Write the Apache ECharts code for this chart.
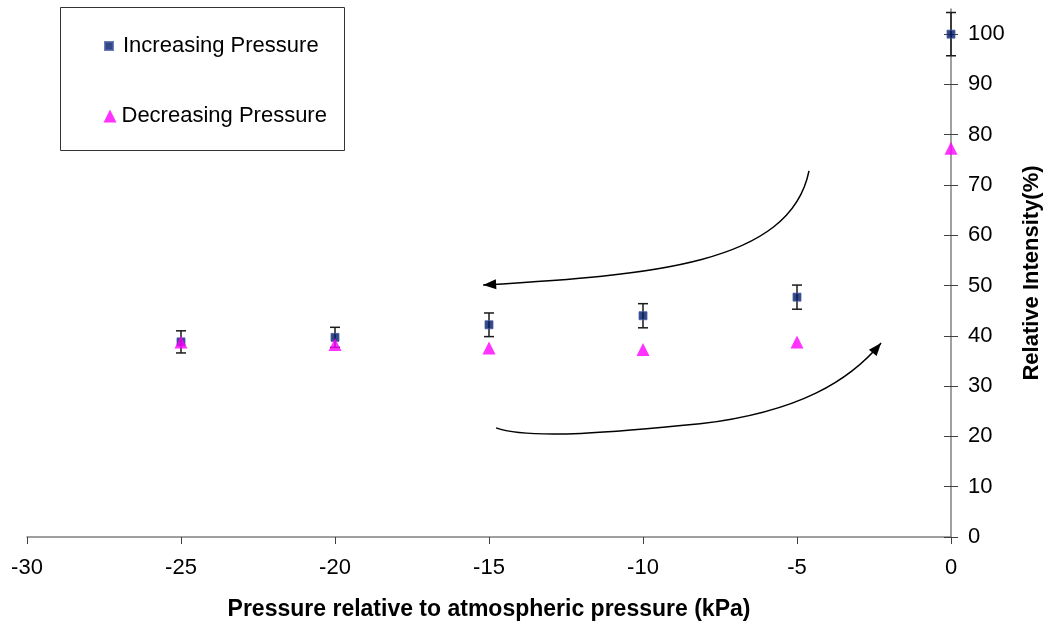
<!DOCTYPE html>
<html>
<head>
<meta charset="utf-8">
<script src="https://cdn.jsdelivr.net/npm/echarts@6/dist/echarts.min.js"></script>
<style>
  html, body { margin: 0; padding: 0; background: #fff; }
  #chart { width: 1048px; height: 624px; }
</style>
</head>
<body>
<div id="chart"></div>
<script>
// pressure steps (kPa, relative to atmospheric)
var pressures = [-25, -20, -15, -10, -5, 0];
// increasing pressure: mean relative intensity (%) and error bar half-width
var increasing = [38.8, 39.7, 42.2, 44.0, 47.7, 100];
var increasingErr = [2.2, 2.0, 2.35, 2.4, 2.4, 4.3];
// decreasing pressure
var decreasing = [38.8, 38.3, 37.6, 37.3, 38.8, 77.3];
// axis ticks
var xTicks = [-30, -25, -20, -15, -10, -5, 0];
var yTicks = [0, 10, 20, 30, 40, 50, 60, 70, 80, 90, 100];

// hand drawn arrows, in data units (kPa, %)
var upperArrow = [[-4.61, 72.8], [-5.23, 54.1], [-9.77, 52.1], [-15.19, 50.1]];
var lowerArrow = [[-14.77, 21.7], [-13.67, 19.3], [-10.75, 20.9], [-8.15, 22.5],
                  [-4.90, 24.9], [-3.28, 31.2], [-2.27, 38.6]];

var FONT = '"Liberation Sans", Arial, sans-serif';

var chart = echarts.init(document.getElementById('chart'));

function errorBar(params, api) {
    var x = api.value(0);
    var top = api.coord([x, api.value(2)]);
    var bot = api.coord([x, api.value(1)]);
    var w = 5;
    var st = { stroke: '#1a1a1a', lineWidth: 1.5 };
    return {
        type: 'group',
        children: [
            { type: 'line', shape: { x1: top[0], y1: top[1], x2: bot[0], y2: bot[1] }, style: st },
            { type: 'line', shape: { x1: top[0] - w, y1: top[1], x2: top[0] + w, y2: top[1] }, style: st },
            { type: 'line', shape: { x1: bot[0] - w, y1: bot[1], x2: bot[0] + w, y2: bot[1] }, style: st }
        ]
    };
}

var errData = pressures.map(function (p, i) {
    return [p, increasing[i] - increasingErr[i], increasing[i] + increasingErr[i]];
});

var option = {
    animation: false,
    backgroundColor: '#fff',
    textStyle: { fontFamily: FONT },
    grid: { left: 27, right: 97, top: 9, bottom: 87, outerBoundsMode: 'none' },
    legend: [{
        data: ['Increasing Pressure'],
        left: 104, top: 34, padding: 0,
        itemWidth: 8, itemHeight: 8,
        selectedMode: false,
        textStyle: { fontSize: 22, color: '#000', fontFamily: FONT, lineHeight: 24, padding: [0, 0, 0, 5] }
    }, {
        data: ['Decreasing Pressure'],
        left: 103.5, top: 104, padding: 0,
        itemWidth: 13, itemHeight: 13,
        selectedMode: false,
        textStyle: { fontSize: 22, color: '#000', fontFamily: FONT, lineHeight: 24 }
    }],
    xAxis: {
        type: 'value',
        min: -30, max: 0, interval: 5,
        name: 'Pressure relative to atmospheric pressure (kPa)',
        nameLocation: 'middle',
        nameGap: 61,
        nameTextStyle: { fontSize: 23, fontWeight: 'bold', color: '#000', fontFamily: FONT },
        axisLine: { onZero: false, lineStyle: { color: '#808080', width: 1.5 } },
        axisTick: { length: 7, lineStyle: { color: '#404040' }, customValues: xTicks },
        axisLabel: { fontSize: 22, color: '#000', margin: 20, customValues: xTicks },
        splitLine: { show: false }
    },
    yAxis: [{
        type: 'value',
        position: 'right',
        min: 0, max: 105, interval: 10,
        name: 'Relative Intensity(%)',
        nameLocation: 'middle',
        nameGap: 70,
        nameRotate: 90,
        nameTextStyle: { fontSize: 22, fontWeight: 'bold', color: '#000', fontFamily: FONT },
        axisLine: { show: true, onZero: false, lineStyle: { color: '#808080', width: 1.5 } },
        axisTick: { show: true, inside: false, length: 7, lineStyle: { color: '#404040' }, customValues: yTicks },
        axisLabel: { fontSize: 22, color: '#000', margin: 17, customValues: yTicks },
        splitLine: { show: false }
    }, {
        // second copy of the axis only to get ticks crossing the line
        type: 'value',
        position: 'right',
        min: 0, max: 105, interval: 10,
        axisLine: { show: false },
        axisTick: { show: true, inside: true, length: 7, lineStyle: { color: '#404040' }, customValues: yTicks },
        axisLabel: { show: false },
        splitLine: { show: false }
    }],
    series: [{
        type: 'custom',
        name: 'err',
        renderItem: errorBar,
        data: errData,
        encode: { x: 0, y: [1, 2] },
        clip: false,
        z: 2
    }, {
        type: 'scatter',
        name: 'Increasing Pressure',
        symbol: 'rect',
        symbolSize: 8,
        itemStyle: { color: '#001a66', borderColor: '#4a5ca8', borderWidth: 1 },
        data: pressures.map(function (p, i) { return [p, increasing[i]]; }),
        clip: false,
        z: 3
    }, {
        type: 'scatter',
        name: 'Decreasing Pressure',
        symbol: 'triangle',
        symbolSize: [13, 13],
        itemStyle: { color: '#ff00ff' },
        data: pressures.map(function (p, i) { return [p, decreasing[i]]; }),
        clip: false,
        z: 4
    }]
};

chart.setOption(option);

// arrows: convert data points to pixels and draw bezier curves with heads
function px(p) { return chart.convertToPixel({ gridIndex: 0 }, p); }

function arrowHead(tip, from) {
    var dx = tip[0] - from[0], dy = tip[1] - from[1];
    var len = Math.sqrt(dx * dx + dy * dy);
    var ux = dx / len, uy = dy / len;
    var L = 13, W = 5;
    var bx = tip[0] - ux * L, by = tip[1] - uy * L;
    return {
        type: 'polygon',
        shape: { points: [tip, [bx - uy * W, by + ux * W], [bx + uy * W, by - ux * W]] },
        style: { fill: '#000' },
        z: 10
    };
}

function curve(p0, p1, p2, p3) {
    return {
        type: 'bezierCurve',
        shape: { x1: p0[0], y1: p0[1], cpx1: p1[0], cpy1: p1[1], cpx2: p2[0], cpy2: p2[1], x2: p3[0], y2: p3[1] },
        style: { stroke: '#000', lineWidth: 1.5, fill: null },
        z: 10
    };
}

var u = upperArrow.map(px);
var l = lowerArrow.map(px);

chart.setOption({
    graphic: [
        {
            type: 'rect',
            shape: { x: 60.5, y: 7.5, width: 284, height: 143 },
            style: { fill: 'none', stroke: '#333', lineWidth: 1 },
            z: 1
        },
        curve(u[0], u[1], u[2], u[3]),
        arrowHead(u[3], u[2]),
        curve(l[0], l[1], l[2], l[3]),
        curve(l[3], l[4], l[5], l[6]),
        arrowHead(l[6], l[5])
    ]
});
</script>
</body>
</html>
